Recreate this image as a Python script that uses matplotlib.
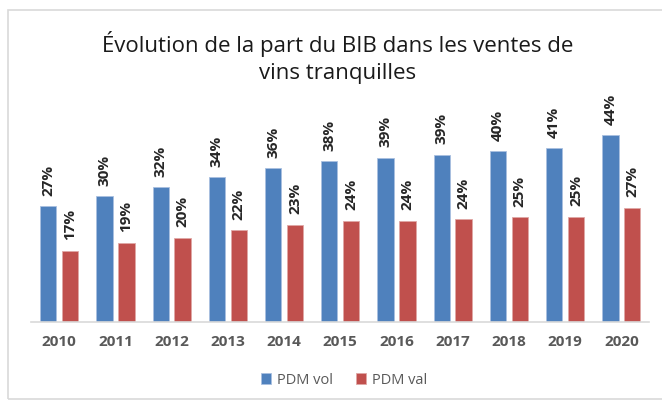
import matplotlib
matplotlib.use("Agg")
import matplotlib.pyplot as plt
import numpy as np
from matplotlib.patches import Rectangle

# data
years = ["2010", "2011", "2012", "2013", "2014", "2015", "2016", "2017", "2018", "2019", "2020"]
pdm_vol = [27.2, 29.6, 31.7, 34.0, 36.1, 37.8, 38.6, 39.3, 40.1, 40.8, 43.8]
pdm_val = [16.7, 18.6, 19.8, 21.6, 22.8, 23.8, 23.8, 24.1, 24.6, 24.7, 26.8]

blue = "#4F81BD"
red = "#C0504D"
txt = "#595959"

plt.rcParams["font.family"] = ["Open Sans", "DejaVu Sans"]

fig = plt.figure(figsize=(6.62, 4.01), dpi=100)
ax = fig.add_axes([0.047, 0.197, 0.934, 0.531])

x = np.arange(len(years))
off = 0.195
w = 0.29
b1 = ax.bar(x - off, pdm_vol, w, color=blue, edgecolor="#a9c0e0", linewidth=0.6, label="PDM vol")
b2 = ax.bar(x + off, pdm_val, w, color=red, edgecolor="#e0a8a6", linewidth=0.6, label="PDM val")

for bars, vals in [(b1, pdm_vol), (b2, pdm_val)]:
    for rect, v in zip(bars, vals):
        ax.annotate(f"{round(v):d}%", (rect.get_x() + rect.get_width() / 2, v),
                    xytext=(0, 7.5), textcoords="offset points", rotation=90,
                    ha="center", va="bottom", fontsize=11, fontweight="bold", color="#262626")

ax.set_xlim(-0.5, len(years) - 0.5)
ax.set_ylim(0, 50)
ax.set_yticks([])
ax.set_xticks(x)
ax.set_xticklabels(years, fontsize=11, fontweight="bold", color=txt)
ax.tick_params(axis="x", length=0, pad=9)
for s in ["top", "right", "left"]:
    ax.spines[s].set_visible(False)
ax.spines["bottom"].set_color("#d9d9d9")
ax.spines["bottom"].set_linewidth(1.2)

fig.text(0.51, 0.856, "Évolution de la part du BIB dans les ventes de\nvins tranquilles",
         ha="center", va="center", fontsize=16, color="#1a1a1a", linespacing=1.4)

fig.legend(handles=[b1, b2], loc="center", bbox_to_anchor=(0.52, 0.052), ncol=2, frameon=False,
           fontsize=10.5, handlelength=0.7, handleheight=0.7, handletextpad=0.4, columnspacing=1.6,
           labelcolor=txt)

fig.patches.append(Rectangle((8 / 662, 2 / 401), 1.2, 389 / 401, transform=fig.transFigure,
                             fill=False, edgecolor="#d9d9d9", linewidth=1.2))

fig.savefig("out.png", dpi=100)
